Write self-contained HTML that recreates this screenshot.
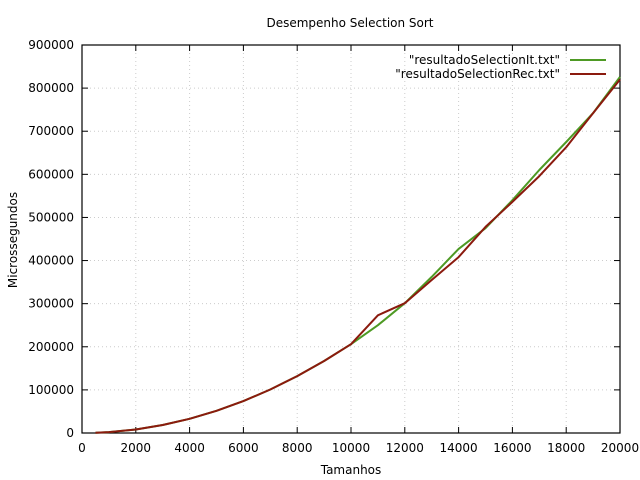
<!DOCTYPE html>
<html><head><meta charset="utf-8"><style>
body{margin:0;background:#fff;}
svg{display:block;font-family:"DejaVu Sans","Liberation Sans",sans-serif;font-size:12px;}
</style></head><body>
<svg id="chart" width="640" height="480">
<text x="350" y="27" text-anchor="middle">Desempenho Selection Sort</text>
<g id="grid"></g>
<g id="ticks"></g>
<rect x="82" y="45" width="538" height="388" fill="none" stroke="#000" stroke-width="1.2"/>
<g id="series"></g>
<text x="351" y="474" text-anchor="middle">Tamanhos</text>
<text transform="translate(17,240) rotate(-90)" text-anchor="middle">Microssegundos</text>
<g>
<text x="560" y="64" text-anchor="end">"resultadoSelectionIt.txt"</text>
<line x1="570" y1="60" x2="606" y2="60" stroke="#4e9a24" stroke-width="2"/>
<text x="560" y="78" text-anchor="end">"resultadoSelectionRec.txt"</text>
<line x1="570" y1="74" x2="606" y2="74" stroke="#8b1a0e" stroke-width="2"/>
</g>
</svg>
<script>
const sizes=[500,1000,2000,3000,4000,5000,6000,7000,8000,9000,10000,11000,12000,13000,14000,15000,16000,17000,18000,19000,20000];
const itValues=[500,2000,8200,18500,33000,51500,74000,101000,132000,167000,206000,250000,301000,362000,427000,475000,540000,610000,675000,742000,826000];
const recValues=[500,2000,8200,18500,33000,51500,74000,101000,132000,167000,206000,273000,301000,355000,408000,478000,536000,596000,663000,742000,820000];
const xTicks=[0,2000,4000,6000,8000,10000,12000,14000,16000,18000,20000];
const yTicks=[0,100000,200000,300000,400000,500000,600000,700000,800000,900000];
const NS="http://www.w3.org/2000/svg";
const X=v=>82+v/20000*538;
const Y=v=>433-v/900000*388;
const grid=document.getElementById('grid'),ticks=document.getElementById('ticks'),series=document.getElementById('series');
function mk(tag,attrs,parent){const e=document.createElementNS(NS,tag);for(const k in attrs)e.setAttribute(k,attrs[k]);parent.appendChild(e);return e;}
xTicks.forEach((t,i)=>{
  const x=X(t);
  if(i>0&&i<xTicks.length-1){const g=mk('line',{x1:x,x2:x,y1:45,y2:433,stroke:'#ccc','stroke-dasharray':'1,3'},grid);
  
  }
  const a=mk('line',{x1:x,x2:x,y1:433,y2:427,stroke:'#000'},ticks);
  
  
  const b=mk('line',{x1:x,x2:x,y1:45,y2:51,stroke:'#000'},ticks);
  
  
  const tx=mk('text',{x:x,y:452,'text-anchor':'middle'},ticks);tx.textContent=t;
  
  
});
yTicks.forEach((t,i)=>{
  const y=Y(t);
  if(i>0&&i<yTicks.length-1){const g=mk('line',{x1:82,x2:620,y1:y,y2:y,stroke:'#ccc','stroke-dasharray':'1,3'},grid);
  
  }
  const a=mk('line',{x1:82,x2:88,y1:y,y2:y,stroke:'#000'},ticks);
  
  
  const b=mk('line',{x1:614,x2:620,y1:y,y2:y,stroke:'#000'},ticks);
  
  
  const tx=mk('text',{x:74,y:y+4,'text-anchor':'end'},ticks);tx.textContent=t;
  
  
});
function line(vals,color,name){
  const pts=sizes.map((s,i)=>X(s).toFixed(1)+','+Y(vals[i]).toFixed(1)).join(' ');
  const p=mk('polyline',{points:pts,fill:'none',stroke:color,'stroke-width':2,'stroke-linejoin':'round'},series);
  
  
}
line(itValues,'#4e9a24','series-it-line');
line(recValues,'#8b1a0e','series-rec-line');
</script>
</body></html>
